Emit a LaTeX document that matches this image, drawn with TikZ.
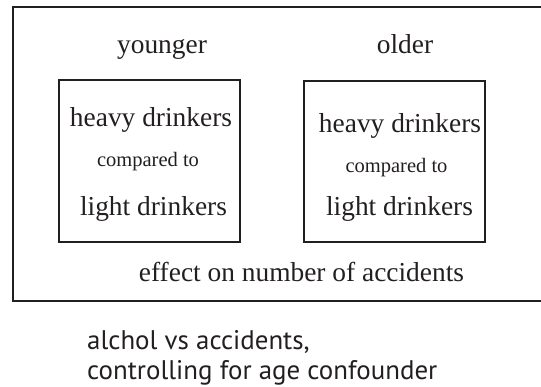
\documentclass[tikz,border=0pt]{standalone}
\usepackage{fontspec}
\setmainfont{Liberation Serif}
\newfontfamily\capfont{PT Sans}
\definecolor{ink}{HTML}{231F20}
\begin{document}
\begin{tikzpicture}[x=1pt,y=-1pt,
  frame/.style={draw=ink,line width=1.6pt},
  box/.style={draw=ink,line width=1.6pt,inner sep=0pt},
  big/.style={font=\fontsize{27.4}{30}\selectfont,text=ink,inner sep=0pt,anchor=base},
  small/.style={font=\fontsize{20.5}{24}\selectfont,text=ink,inner sep=0pt,anchor=base},
  caption/.style={font=\capfont\fontsize{26.9}{30}\selectfont,text=ink,inner sep=0pt,anchor=base west}]
\useasboundingbox (0,0) rectangle (541,387);
\clip (0,0) rectangle (541,387);
\node[frame,inner sep=0pt,minimum width=548pt,minimum height=294pt,anchor=north west] (outer) at (12,6) {};
\node[box,minimum width=181pt,minimum height=162pt,anchor=north west] (lbox) at (58,79) {};
\node[box,minimum width=181pt,minimum height=161pt,anchor=north west] (rbox) at (303,80) {};
\node[big] (younger) at (162,54) {younger};
\node[big] (older) at (405,54) {older};
\node[big] (lheavy) at (151,127) {heavy drinkers};
\node[small] (lcomp) at (148,167) {compared to};
\node[big] (llight) at (153.5,216) {light drinkers};
\node[big] (rheavy) at (400,133) {heavy drinkers};
\node[small] (rcomp) at (396.5,173) {compared to};
\node[big] (rlight) at (399.5,216) {light drinkers};
\node[big] (effect) at (301.5,282) {effect on number of accidents};
\node[caption] (cap1) at (87,349) {alchol vs accidents,};
\node[caption] (cap2) at (87,379) {controlling for age confounder};
\end{tikzpicture}
\end{document}
